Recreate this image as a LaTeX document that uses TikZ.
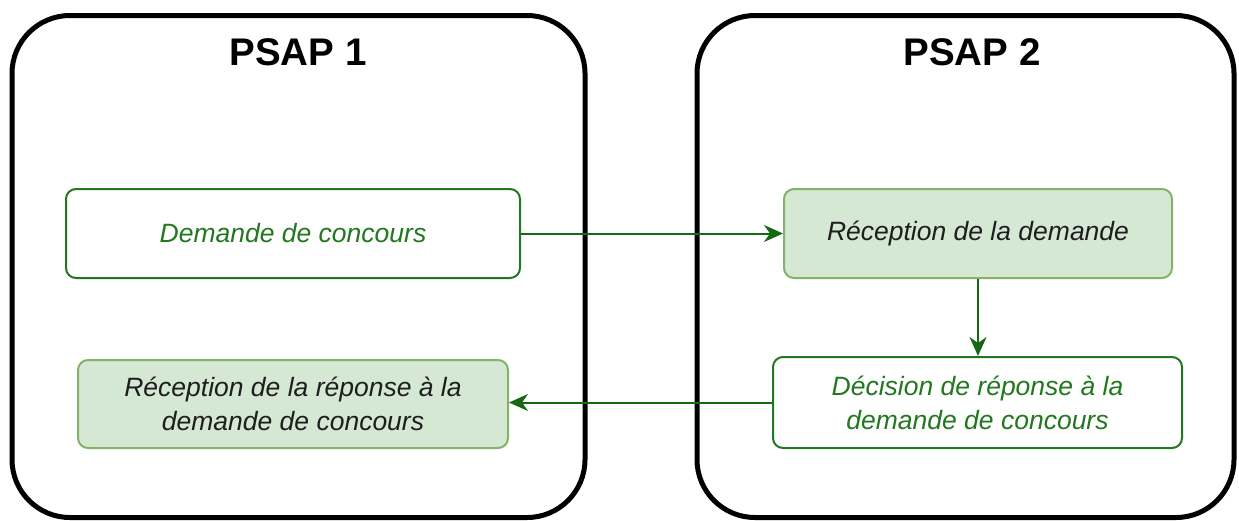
\documentclass[tikz,border=0pt]{standalone}
\usepackage{fontspec}
\setmainfont{Liberation Sans}
\usetikzlibrary{arrows.meta}
\definecolor{dkgreen}{RGB}{34,120,30}
\definecolor{arrgreen}{RGB}{22,104,18}
\definecolor{lgfill}{RGB}{213,232,212}
\definecolor{lgborder}{RGB}{130,179,102}
\definecolor{txtdark}{RGB}{30,30,30}
\tikzset{
  psap/.style={draw=black, line width=5pt, rounded corners=58pt, inner sep=0pt},
  ptitle/.style={font=\fontsize{38.5}{42}\selectfont\bfseries, text=black},
  wbox/.style={draw=dkgreen, fill=white, line width=2pt, rounded corners=10pt, inner sep=0pt,
    font=\fontsize{26.5}{34}\selectfont\itshape, text=dkgreen, align=center},
  gbox/.style={draw=lgborder, fill=lgfill, line width=2pt, rounded corners=10pt, inner sep=0pt,
    font=\fontsize{26.5}{34}\selectfont\itshape, text=txtdark, align=center},
  conn/.style={draw=arrgreen, line width=2pt, -{Stealth[length=19pt,width=17pt,inset=6pt]}}
}
\begin{document}
\begin{tikzpicture}[x=1pt,y=-1pt]
\useasboundingbox (0,0) rectangle (1239,520);
\node[psap, minimum width=573pt, minimum height=502pt] (p1) at (298.5,266.5) {};
\node[psap, minimum width=537pt, minimum height=502pt] (p2) at (965.5,266.5) {};
\node[ptitle] (t1) at (298,52) {PSAP 1};
\node[ptitle] (t2) at (972,52) {PSAP 2};
\node[wbox, minimum width=454pt, minimum height=89pt] (a) at (293,233.5) {Demande de concours};
\node[gbox, minimum width=388pt, minimum height=89pt] (b) at (978,233.5) {Réception de la demande};
\node[wbox, minimum width=409pt, minimum height=91pt] (c) at (977.5,402.5) {Décision de réponse à la\\demande de concours};
\node[gbox, minimum width=430pt, minimum height=88pt] (d) at (293,404) {Réception de la réponse à la\\demande de concours};
\draw[conn] (a.east) -- (a.east -| b.west);
\draw[conn] (b.south) -- (b.south |- c.north);
\draw[conn] (c.west) -- (c.west -| d.east);
\end{tikzpicture}
\end{document}
